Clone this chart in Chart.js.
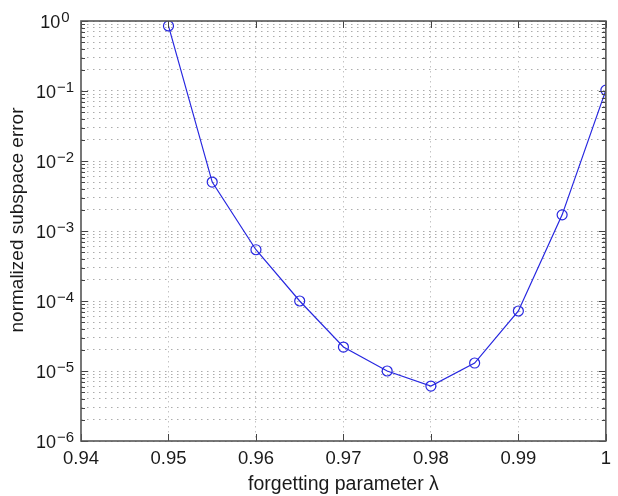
<!DOCTYPE html>
<html lang="en">
<head>
    <meta charset="UTF-8">
    <title>Subspace error vs forgetting parameter</title>
    <script src="https://cdn.jsdelivr.net/npm/chart.js"></script>
    <style>
        body { margin: 0; background: #fff; }
        #wrap { width: 618px; height: 496px; }
    </style>
</head>
<body>
    <div id="wrap"><canvas id="errChart"></canvas></div>

    <script>
        // values
        const lambdas = [0.95, 0.955, 0.96, 0.965, 0.97, 0.975, 0.98, 0.985, 0.99, 0.995, 1.0];
        const errors = [0.85, 5.0e-3, 5.4e-4, 1.0e-4, 2.2e-5, 1.0e-5, 6.1e-6, 1.3e-5, 7.2e-5, 1.7e-3, 0.103];
        const xTickValues = [0.94, 0.95, 0.96, 0.97, 0.98, 0.99, 1];
        const yDecades = [-6, -5, -4, -3, -2, -1, 0];
        const yTitle = 'normalized subspace error';

        const FONT = '"Liberation Sans", Arial, sans-serif';
        const BLUE = '#2828e0';
        const TXT = '#1a1a1a';

        // log ticks: 1..9 per decade, decade is major
        let yTicks = [];
        yDecades.forEach(e => {
            for (let m = 1; m <= 9; m++) {
                if (e === 0 && m > 1) break;
                yTicks.push({ value: m * Math.pow(10, e), major: m === 1 });
            }
        });

        const matlabBox = {
            id: 'matlabBox',
            afterDraw(chart) {
                const { ctx, chartArea: a, scales } = chart;
                const x = scales.x, y = scales.y;
                ctx.save();
                ctx.strokeStyle = '#444';
                ctx.lineWidth = 1;
                function seg(x1, y1, x2, y2) {
                    ctx.beginPath(); ctx.moveTo(x1, y1); ctx.lineTo(x2, y2); ctx.stroke();
                }
                // inside tick marks
                yTicks.forEach(t => {
                    const py = Math.round(y.getPixelForValue(t.value)) + 0.5;
                    const len = t.major ? 7 : 4;
                    seg(a.left, py, a.left + len, py);
                    seg(a.right, py, a.right - len, py);
                });
                xTickValues.forEach(v => {
                    const px = Math.round(x.getPixelForValue(v)) + 0.5;
                    seg(px, a.bottom, px, a.bottom - 7);
                    seg(px, a.top, px, a.top + 7);
                });
                // frame
                ctx.lineWidth = 1.6;
                ctx.strokeStyle = '#555';
                ctx.strokeRect(a.left, a.top, a.right - a.left, a.bottom - a.top);

                // y labels 10^n, centred at x=55
                ctx.fillStyle = TXT;
                ctx.textBaseline = 'alphabetic';
                ctx.textAlign = 'left';
                yDecades.forEach(e => {
                    const py = y.getPixelForValue(Math.pow(10, e));
                    const expTxt = e === 0 ? '0' : '\u2212' + (-e);
                    ctx.font = '18px ' + FONT;
                    const bw = ctx.measureText('10').width;
                    ctx.font = '15px ' + FONT;
                    const ew = ctx.measureText(expTxt).width;
                    const x0 = 55 - (bw + 1 + ew) / 2;
                    ctx.font = '18px ' + FONT;
                    ctx.fillText('10', x0, py + 6.5);
                    ctx.font = '15px ' + FONT;
                    ctx.fillText(expTxt, x0 + bw + 1, py + 0.5);
                });

                // y title, sits a bit above the axis middle like the original
                ctx.translate(23, 220);
                ctx.rotate(-Math.PI / 2);
                ctx.textAlign = 'center';
                ctx.font = '19px ' + FONT;
                ctx.fillText(yTitle, 0, 0);
                ctx.restore();
            }
        };

        const ctx = document.getElementById('errChart').getContext('2d');
        const chart = new Chart(ctx, {
            type: 'line',
            data: {
                datasets: [{
                    label: yTitle,
                    data: lambdas.map((l, i) => ({ x: l, y: errors[i] })),
                    borderColor: BLUE,
                    borderWidth: 1.2,
                    pointRadius: 5,
                    pointHoverRadius: 5,
                    pointBorderColor: BLUE,
                    pointBorderWidth: 1.2,
                    pointBackgroundColor: 'rgba(0,0,0,0)',
                    fill: false,
                    tension: 0
                }]
            },
            options: {
                responsive: true,
                maintainAspectRatio: false,
                animation: false,
                devicePixelRatio: 1,
                layout: { padding: { top: 21, right: 5, left: 0, bottom: 0 } },
                plugins: { legend: { display: false }, tooltip: { enabled: false } },
                scales: {
                    x: {
                        type: 'linear',
                        min: 0.94,
                        max: 1,
                        afterBuildTicks: s => { s.ticks = xTickValues.map(v => ({ value: v })); },
                        afterFit: s => { s.height = 55; },
                        ticks: {
                            autoSkip: false,
                            maxRotation: 0,
                            padding: 7,
                            color: TXT,
                            font: { family: FONT, size: 18.5 },
                            callback: v => String(+v.toFixed(2))
                        },
                        grid: {
                            drawTicks: false,
                            tickLength: 0,
                            color: c => (c.tick && (c.tick.value === 0.94 || c.tick.value === 1)) ? 'rgba(0,0,0,0)' : '#c4c4c4',
                            lineWidth: 1
                        },
                        border: { display: false, dash: [1.5, 3.5] },
                        title: {
                            display: true,
                            text: 'forgetting parameter \u03bb',
                            color: TXT,
                            font: { family: FONT, size: 19.5 },
                            padding: { top: 0, bottom: 0 }
                        }
                    },
                    y: {
                        type: 'logarithmic',
                        min: 1e-6,
                        max: 1,
                        afterBuildTicks: s => { s.ticks = yTicks.map(t => ({ value: t.value, major: t.major })); },
                        afterFit: s => { s.width = 81; },
                        ticks: { display: false, autoSkip: false },
                        grid: {
                            drawTicks: false,
                            tickLength: 0,
                            color: '#acacac',
                            lineWidth: 1
                        },
                        border: { display: false, dash: [1.5, 4.5] },
                        title: { display: false }
                    }
                }
            },
            plugins: [matlabBox]
        });
    </script>
</body>
</html>
